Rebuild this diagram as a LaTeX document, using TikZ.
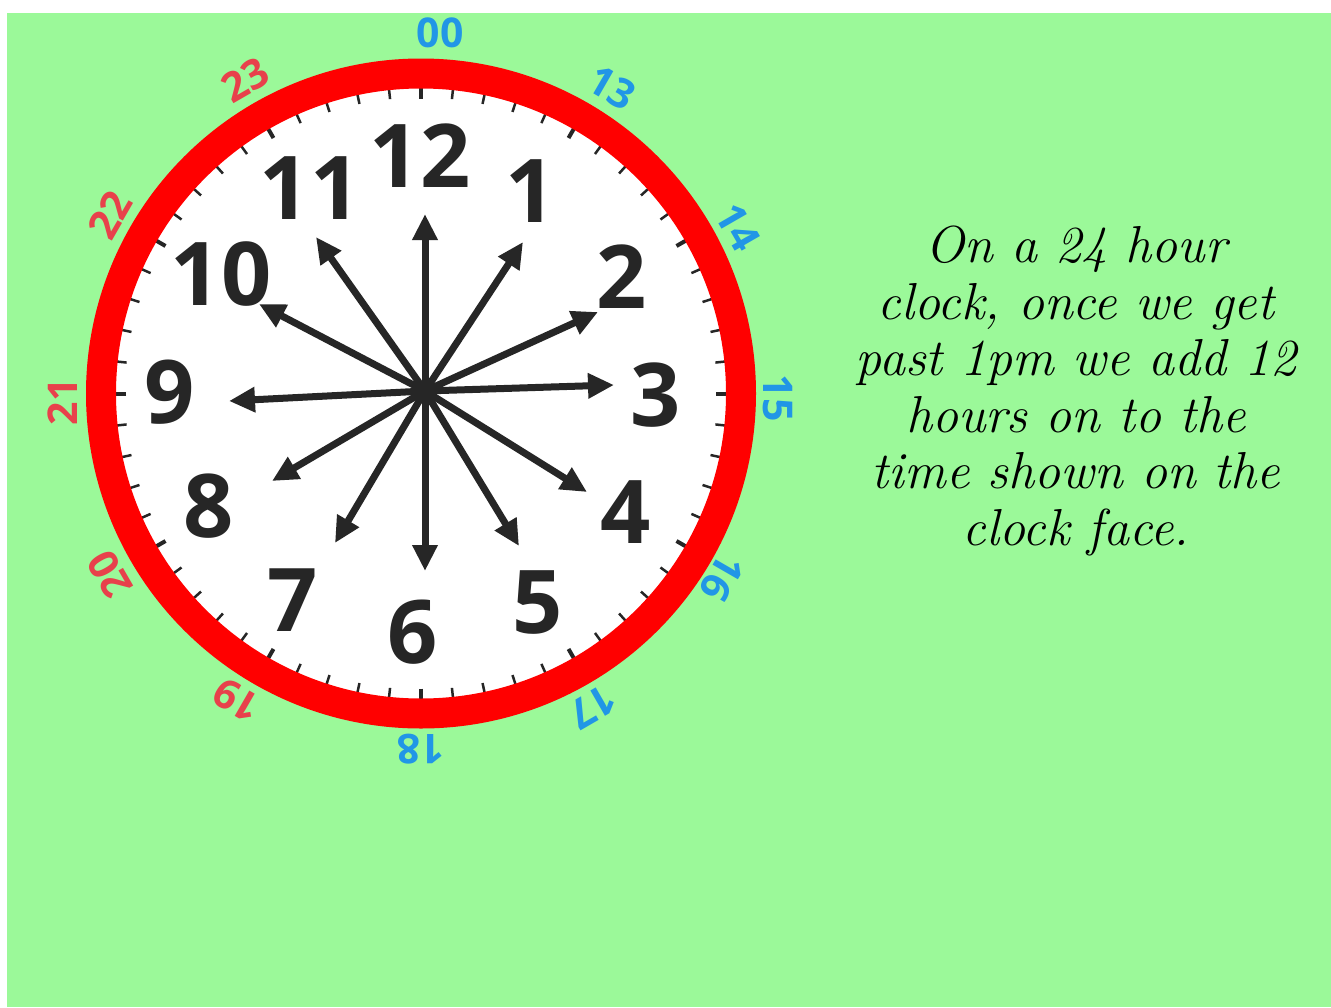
\documentclass[tikz,border=0pt]{standalone}
\usepackage{fontspec}
\setsansfont{Open Sans}
\usetikzlibrary{arrows.meta}
\definecolor{bggreen}{RGB}{155,249,153}
\definecolor{ringred}{RGB}{255,0,0}
\definecolor{numgray}{RGB}{38,38,38}
\definecolor{hblue}{RGB}{33,150,230}
\definecolor{hred}{RGB}{232,65,75}
\tikzset{
  hournum/.style={inner sep=0pt, text=numgray, font=\fontsize{88}{88}\selectfont\sffamily\bfseries},
  outblue/.style={inner sep=0pt, text=hblue, font=\fontsize{41}{41}\selectfont\sffamily\bfseries},
  outred/.style={inner sep=0pt, text=hred, font=\fontsize{41}{41}\selectfont\sffamily\bfseries},
  hand/.style={line width=7pt, draw=numgray, -{Triangle[length=26pt,width=24pt]}},
  minortick/.style={line width=2.5pt, draw=numgray},
  majortick/.style={line width=4pt, draw=numgray},
}
\begin{document}
\begin{tikzpicture}[x=1pt,y=-1pt]
\useasboundingbox (0,0) rectangle (1331,1007);
\fill[white] (0,0) rectangle (1331,1007);
\fill[bggreen] (7,13) rectangle (1331,1007);
% clock face
\coordinate (face) at (421,393.5);
\fill[white] (face) circle (320pt);
\foreach \i in {0,...,59}{
  \pgfmathsetmacro\a{6*\i}
  \pgfmathtruncatemacro\m{mod(\i,5)}
  \ifnum\m=0
    \draw[majortick] ({421+295*sin(\a)},{393.5-295*cos(\a)}) -- ({421+308*sin(\a)},{393.5-308*cos(\a)});
  \else
    \draw[minortick] ({421+296*sin(\a)},{393.5-296*cos(\a)}) -- ({421+308*sin(\a)},{393.5-308*cos(\a)});
  \fi
}
\draw[ringred, line width=30pt] (face) circle (320pt);
% hour numerals
\node[hournum] (n12) at (420,156) {12};
\node[hournum] (n1) at (531,191) {1};
\node[hournum] (n2) at (622,277) {2};
\node[hournum] (n3) at (656,395) {3};
\node[hournum] (n4) at (626,512) {4};
\node[hournum] (n5) at (538,603) {5};
\node[hournum] (n6) at (413,632) {6};
\node[hournum] (n7) at (293,600) {7};
\node[hournum] (n8) at (209,506) {8};
\node[hournum] (n9) at (170,392) {9};
\node[hournum] (n10) at (221,274) {10};
\node[hournum] (n11) at (310,188) {11};
% arrows
\coordinate (ctr) at (425,391);
\coordinate (t12) at (425,214);
\coordinate (t1) at (523,242);
\coordinate (t2) at (598,312);
\coordinate (t3) at (614,385);
\coordinate (t4) at (587,492);
\coordinate (t5) at (519,546);
\coordinate (t6) at (425,571);
\coordinate (t7) at (335,543);
\coordinate (t8) at (272,481);
\coordinate (t9) at (229,401);
\coordinate (t10) at (259,304);
\coordinate (t11) at (316,237);
\foreach \t in {t12,t1,t2,t3,t4,t5,t6,t7,t8,t9,t10,t11}{
  \draw[hand] (ctr) -- (\t);
}
\fill[numgray] (ctr) circle (7pt);
% 24 hour numbers
\node[outblue] (h00) at (440,33) {00};
\node[outblue, rotate=-30] (h13) at (612,88) {13};
\node[outblue, rotate=-60] (h14) at (738,227) {14};
\node[outblue, rotate=-90] (h15) at (778,398) {15};
\node[outblue, rotate=-120] (h16) at (722,578) {16};
\node[outblue, rotate=-150] (h17) at (593,707) {17};
\node[outblue, rotate=180] (h18) at (421,749) {18};
\node[outred, rotate=150] (h19) at (237,700) {19};
\node[outred, rotate=120] (h20) at (110,575) {20};
\node[outred, rotate=90] (h21) at (63,402) {21};
\node[outred, rotate=60] (h22) at (110,215) {22};
\node[outred, rotate=30] (h23) at (245,80) {23};
% explanation
\node[inner sep=0pt, align=center, font=\fontsize{52}{56.5}\selectfont\itshape] (txt) at (1076,391)
  {On a 24 hour\\clock, once we get\\past 1pm we add 12\\hours on to the\\time shown on the\\clock face.};
\end{tikzpicture}
\end{document}
